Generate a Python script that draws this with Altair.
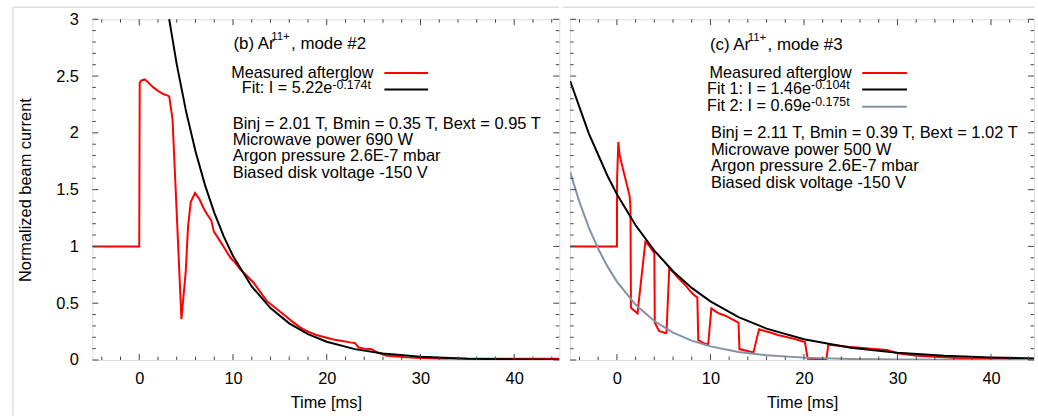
import altair as alt
import pandas as pd

FONT = "Liberation Sans"
TICK = "#444444"
FRAME = "#444444"
GREYLINE = "#dedede"
RED = "#ff0000"
SLATE = "#8491a3"

# ---------------- panel (b): Ar11+, mode #2 ----------------
b_meas_t = [-5, 0, 0.05, 0.2, 0.6, 1.0, 1.5, 2.0, 2.6, 3.0, 3.2, 3.55, 4.5, 4.96, 5.2, 5.49,
            5.95, 6.4, 6.9, 7.26, 7.68, 7.96, 8.67, 9.2, 9.73, 10.2, 10.8, 11.5, 12.2, 12.9,
            13.6, 14.5, 15.4, 16.3, 17.2, 18.0, 18.9, 19.8, 20.7, 21.5, 22.5, 23.0, 23.4,
            24.0, 24.8, 25.4, 26.4, 27.5, 28.5, 30.0, 32.0, 35.0, 38.0, 41.0, 44.8]
b_meas_i = [1.0, 1.0, 2.44, 2.46, 2.47, 2.44, 2.40, 2.37, 2.34, 2.33, 2.32, 2.12, 0.36, 0.78, 1.17, 1.39,
            1.47, 1.42, 1.33, 1.28, 1.23, 1.13, 1.04, 0.97, 0.90, 0.86, 0.795, 0.74, 0.68, 0.60,
            0.52, 0.46, 0.40, 0.34, 0.285, 0.25, 0.22, 0.20, 0.18, 0.17, 0.155, 0.15, 0.11,
            0.10, 0.095, 0.066, 0.038, 0.03, 0.023, 0.018, 0.014, 0.012, 0.012, 0.011, 0.012]
b_fit_t = [3, 4, 5, 6, 7, 8, 9, 10, 12, 14, 16, 18, 20, 23, 26, 30, 35, 40, 45]
b_fit_i = [3.097, 2.603, 2.187, 1.838, 1.544, 1.298, 1.090, 0.916, 0.647, 0.457, 0.3225,
           0.2278, 0.1608, 0.0954, 0.0566, 0.0282, 0.0118, 0.0050, 0.0021]

# ---------------- panel (c): Ar11+, mode #3 ----------------
c_meas_t = [-5, 0, 0.02, 0.15, 0.3, 0.8, 1.35, 1.45, 1.5, 2.2, 3.04, 3.5, 4.0, 4.05, 4.5, 5.2,
            5.3, 5.6, 6.1, 6.7, 7.4, 7.9, 8.4, 8.6, 8.7, 9.2, 9.76, 10.1, 10.5, 10.9, 11.6,
            12.3, 13.0, 13.1, 14.6, 15.2, 15.8, 16.5, 17.2, 18.0, 19.0, 19.9, 20.1, 20.4,
            21.5, 22.4, 22.6, 23.5, 24.7, 26.0, 27.5, 28.9, 29.2, 30.0, 31.0, 32.1, 34.0,
            36.3, 38.0, 41.0, 44.6]
c_meas_i = [1.0, 1.0, 1.6, 1.92, 1.80, 1.63, 1.45, 1.35, 0.46, 0.41, 1.04, 1.0, 0.94, 0.33, 0.256, 0.236,
            0.24, 0.81, 0.766, 0.71, 0.65, 0.60, 0.562, 0.55, 0.175, 0.15, 0.134, 0.455, 0.43, 0.41, 0.39,
            0.36, 0.33, 0.096, 0.067, 0.27, 0.255, 0.24, 0.22, 0.204, 0.185, 0.163, 0.16, 0.01,
            0.008, 0.008, 0.134, 0.128, 0.116, 0.107, 0.097, 0.087, 0.08, 0.058, 0.048, 0.038, 0.028,
            0.017, 0.012, 0.008, 0.005]
c_fit1_t = [-5, -3, -1, 0, 2, 4, 6, 8, 10, 13, 16, 20, 25, 30, 35, 40, 45]
c_fit1_i = [2.456, 1.994, 1.620, 1.46, 1.186, 0.963, 0.782, 0.635, 0.516, 0.378, 0.2765,
            0.1823, 0.1084, 0.0645, 0.0383, 0.0228, 0.0135]
c_fit2_t = [-5, -4, -3, -2, -1, 0, 2, 4, 6, 8, 10, 13, 16, 20, 25, 30, 35, 40, 45]
c_fit2_i = [1.655, 1.390, 1.166, 0.979, 0.822, 0.69, 0.486, 0.343, 0.2414, 0.170, 0.120,
            0.0709, 0.0420, 0.0208, 0.0087, 0.0036, 0.0015, 0.0006, 0.0003]

# ---------------- ticks ----------------
x_major = [0, 10, 20, 30, 40]
x_minor = [-4, -2, 2, 4, 6, 8, 12, 14, 16, 18, 22, 24, 26, 28, 32, 34, 36, 38, 42, 44]
y_major = [0, 0.5, 1, 1.5, 2, 2.5, 3]
y_minor = [0.1, 0.2, 0.3, 0.4, 0.6, 0.7, 0.8, 0.9, 1.1, 1.2, 1.3, 1.4, 1.6, 1.7, 1.8, 1.9,
           2.1, 2.2, 2.3, 2.4, 2.6, 2.7, 2.8, 2.9]

info_b = ["Binj = 2.01 T, Bmin = 0.35 T, Bext = 0.95 T", "Microwave power 690 W",
          "Argon pressure 2.6E-7 mbar", "Biased disk voltage -150 V"]
info_c = ["Binj = 2.11 T, Bmin = 0.39 T, Bext = 1.02 T", "Microwave power 500 W",
          "Argon pressure 2.6E-7 mbar", "Biased disk voltage -150 V"]

H = 343
DUMMY = pd.DataFrame({"d": [0]})
FS = 16.6


def text(txt, x, y, size=FS, align="left"):
    return alt.Chart(DUMMY).mark_text(
        text=txt, align=align, baseline="alphabetic", font=FONT, fontSize=size, color="black"
    ).encode(x=alt.value(x), y=alt.value(y))


def hrule(x1, x2, y, color, width=2):
    return alt.Chart(DUMMY).mark_rule(color=color, strokeWidth=width).encode(
        x=alt.value(x1), x2=alt.value(x2), y=alt.value(y))


def vrule(x, y1, y2, color, width=1.5):
    return alt.Chart(DUMMY).mark_rule(color=color, strokeWidth=width).encode(
        x=alt.value(x), y=alt.value(y1), y2=alt.value(y2))


def panel(W, xmax, show_y, series, texts, legend, frame_rules):
    xscale = alt.Scale(domain=[-5, xmax], nice=False, zero=False)
    yscale = alt.Scale(domain=[0, 3], nice=False, zero=False)
    X = alt.X("t:Q", scale=xscale, axis=alt.Axis(
        values=x_major, format="d", ticks=False, tickSize=0, domain=False, grid=False,
        labelFont=FONT, labelFontSize=16.5, labelColor="black", labelPadding=24,
        labelBaseline="alphabetic", title="Time [ms]", titleFont=FONT, titleFontSize=16.5,
        titleFontWeight="normal", titleColor="black", titleBaseline="alphabetic",
        titleY=47.5, titleX=W / 2, titleAnchor="middle"))
    if show_y:
        Y = alt.Y("i:Q", scale=yscale, axis=alt.Axis(
            values=y_major, format="~g", ticks=False, tickSize=0, domain=False, grid=False,
            labelFont=FONT, labelFontSize=16.5, labelColor="black", labelPadding=14,
            title="Normalized beam current", titleFont=FONT, titleFontSize=16.5,
            titleFontWeight="normal", titleColor="black", titleAngle=270,
            titleBaseline="alphabetic", titleAlign="center", titleX=-62.5, titleY=H / 2))
    else:
        Y = alt.Y("i:Q", scale=yscale, axis=None)

    layers = []
    for t, i, color in series:
        df = pd.DataFrame({"t": t, "i": i})
        layers.append(alt.Chart(df).mark_line(color=color, strokeWidth=2, clip=True).encode(x=X, y=Y))

    for vals, L in ((x_major, 6), (x_minor, 3.5)):
        df = pd.DataFrame({"t": vals})
        layers.append(alt.Chart(df).mark_rule(color=TICK, strokeWidth=1).encode(
            x=X, y=alt.value(H), y2=alt.value(H - L)))
        layers.append(alt.Chart(df).mark_rule(color=TICK, strokeWidth=1).encode(
            x=X, y=alt.value(0), y2=alt.value(L)))
    for vals, L in ((y_major, 6), (y_minor, 3.5)):
        df = pd.DataFrame({"i": vals})
        layers.append(alt.Chart(df).mark_rule(color=TICK, strokeWidth=1).encode(
            y=Y, x=alt.value(0), x2=alt.value(L)))
        layers.append(alt.Chart(df).mark_rule(color=TICK, strokeWidth=1).encode(
            y=Y, x=alt.value(W), x2=alt.value(W - L)))

    for tx in texts:
        layers.append(text(*tx))
    for lg in legend:
        layers.append(hrule(*lg))
    layers.extend(frame_rules)
    return alt.layer(*layers).properties(width=W, height=H)


W1 = 470
W2 = 467

left = panel(
    W1, 44.8, True,
    [(b_meas_t, b_meas_i, RED), (b_fit_t, b_fit_i, "black")],
    [
        ("(b) Ar", 142, 30, 17), ("11+", 180, 21, 11.5), (", mode #2", 200, 30, 17),
        ("Measured afterglow", 283, 59, 16.3, "right"),
        ("Fit: I = 5.22e", 241.5, 74.5, 16.3, "right"), ("-0.174t", 241.5, 70, 12.5),
        (info_b[0], 141.3, 110), (info_b[1], 141.3, 126.5),
        (info_b[2], 141.3, 143), (info_b[3], 141.3, 159.5),
    ],
    [(294, 338, 54, RED), (294, 338, 70.7, "black")],
    [vrule(-80, -12, H + 56, GREYLINE), hrule(-80, W1, -12, GREYLINE, 1.5)],
)

right = panel(
    W2, 44.6, False,
    [(c_meas_t, c_meas_i, RED), (c_fit1_t, c_fit1_i, "black"), (c_fit2_t, c_fit2_i, SLATE)],
    [
        ("(c) Ar", 140.7, 31, 17), ("11+", 178.7, 22, 11.5), (", mode #3", 198.7, 31, 17),
        ("Measured afterglow", 283.4, 59, 16.3, "right"),
        ("Fit 1: I = 1.46e", 242.5, 75.5, 16.3, "right"), ("-0.104t", 242.5, 70.5, 12.5),
        ("Fit 2: I = 0.69e", 242.5, 92, 16.3, "right"), ("-0.175t", 242.5, 87, 12.5),
        (info_c[0], 141.7, 120), (info_c[1], 141.7, 136.5),
        (info_c[2], 141.7, 153), (info_c[3], 141.7, 169.5),
    ],
    [(294, 339, 54, RED), (294, 339, 70.7, "black"), (294, 339, 88, SLATE)],
    [hrule(-7, W2 + 1, -12, GREYLINE, 1.5)],
)

chart = alt.hconcat(left, right, spacing=0).properties(
    padding={"left": 11, "top": 4, "right": 1, "bottom": 0}
).configure_view(stroke=FRAME, strokeWidth=1.5).configure(font=FONT)

chart.save("out.html", embed_options={"renderer": "svg", "actions": False})
